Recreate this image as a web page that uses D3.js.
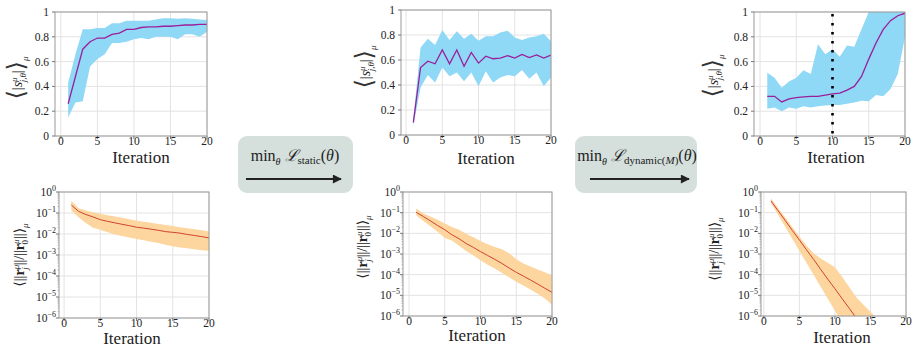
<!DOCTYPE html>
<meta charset="utf-8">
<style>
body{margin:0;background:#fff;}
text{font-family:"Liberation Serif","DejaVu Serif",serif;fill:#222;}
</style>
<body>
<div id="container"></div>
<script src="https://d3js.org/d3.v7.min.js"></script>
<script>

var width = 917,
    height = 348;

var iterations = [1,2,3,4,5,6,7,8,9,10,11,12,13,14,15,16,17,18,19,20];
var xTicks = [0,5,10,15,20];
var linTicks = [0,0.2,0.4,0.6,0.8,1];
var linTickLabels = ["0","0.2","0.4","0.6","0.8","1"];
var logTicks = [1e-6,1e-5,1e-4,1e-3,1e-2,1e-1,1];
var logExponents = ["\u22126","\u22125","\u22124","\u22123","\u22122","\u22121","0"];

// static training: mean overlap and spread
var sMeanA = [0.26,0.48,0.70,0.76,0.79,0.79,0.82,0.83,0.86,0.86,0.875,0.88,0.88,0.885,0.885,0.89,0.895,0.895,0.9,0.9];
var sHiA   = [0.43,0.66,0.86,0.86,0.87,0.87,0.91,0.91,0.93,0.93,0.93,0.93,0.94,0.95,0.95,0.945,0.95,0.945,0.94,0.935];
var sLoA   = [0.15,0.27,0.28,0.56,0.62,0.66,0.75,0.75,0.76,0.78,0.79,0.78,0.80,0.80,0.80,0.78,0.82,0.82,0.80,0.84];
var rMeanA = [0.24,0.12,0.085,0.065,0.048,0.04,0.034,0.029,0.025,0.021,0.019,0.017,0.015,0.013,0.012,0.011,0.0095,0.0085,0.0075,0.0065];
var rHiA   = [0.38,0.17,0.13,0.11,0.093,0.078,0.068,0.06,0.05,0.043,0.038,0.034,0.03,0.027,0.024,0.021,0.019,0.017,0.015,0.013];
var rLoA   = [0.13,0.063,0.033,0.02,0.016,0.012,0.0095,0.008,0.0068,0.0058,0.005,0.0043,0.0037,0.0031,0.0026,0.0023,0.0021,0.0019,0.0017,0.0016];

// untrained / intermediate model
var sMeanB = [0.10,0.54,0.59,0.57,0.68,0.57,0.68,0.55,0.66,0.575,0.63,0.61,0.615,0.635,0.615,0.645,0.62,0.64,0.615,0.64];
var sHiB   = [0.13,0.70,0.77,0.72,0.84,0.76,0.83,0.77,0.81,0.755,0.79,0.79,0.82,0.835,0.78,0.76,0.78,0.79,0.81,0.75];
var sLoB   = [0.07,0.38,0.48,0.42,0.54,0.47,0.50,0.43,0.50,0.39,0.51,0.42,0.46,0.48,0.47,0.52,0.45,0.50,0.39,0.46];
var rMeanB = [0.105,0.065,0.04,0.024,0.015,0.0085,0.0055,0.0032,0.0021,0.0013,8.5e-4,5.5e-4,3.5e-4,2.1e-4,1.3e-4,8.5e-5,5.5e-5,3.5e-5,2.2e-5,1.4e-5];
var rHiB   = [0.16,0.09,0.065,0.045,0.03,0.02,0.015,0.0095,0.0065,0.0042,0.003,0.0022,0.0017,0.0011,5.5e-4,3.5e-4,2.5e-4,1.8e-4,1.3e-4,9e-5];
var rLoB   = [0.075,0.04,0.022,0.012,0.006,0.0045,0.0025,0.0014,8.5e-4,5e-4,3e-4,2e-4,1.2e-4,7.5e-5,4.5e-5,3e-5,1.9e-5,1.2e-5,7e-6,3.5e-6];

// dynamic training
var sMeanC = [0.32,0.32,0.275,0.30,0.31,0.315,0.32,0.32,0.33,0.34,0.345,0.37,0.40,0.48,0.62,0.75,0.86,0.93,0.97,0.99];
var sHiC   = [0.51,0.47,0.39,0.44,0.47,0.53,0.50,0.74,0.66,0.70,0.64,0.73,0.72,0.86,1.0,1.0,1.0,1.0,1.0,1.0];
var sLoC   = [0.22,0.23,0.20,0.23,0.22,0.24,0.23,0.24,0.245,0.25,0.25,0.26,0.27,0.285,0.28,0.33,0.32,0.38,0.50,0.80];
var rMeanC = [0.37,0.125,0.042,0.014,4.8e-3,1.6e-3,5.5e-4,1.8e-4,6e-5,2.1e-5,7e-6,2.4e-6,8e-7,2.7e-7,9e-8,3e-8,1e-8,3.5e-9,1.2e-9,4e-10];
var rHiC   = [0.5,0.17,0.06,0.02,0.007,0.0025,0.0011,6e-4,3.8e-4,2.3e-4,8e-5,2.5e-5,8e-6,3.5e-6,1.6e-6,7e-7,3e-7,1.2e-7,5e-8,2e-8];
var rLoC   = [0.3,0.08,0.021,5.5e-3,1.4e-3,3.8e-4,1e-4,2.6e-5,6.8e-6,1.8e-6,4.7e-7,1.2e-7,3e-8,8e-9,2e-9,5e-10,1.3e-10,3e-11,8e-12,2e-12];
var switchIteration = 10;

var svg = d3.select("#container").append("svg")
    .attr("width", width)
    .attr("height", height);

var blueFill = "#8fd8f6", purple = "#9b1f9b";
var orangeFill = "#fdd59e", red = "#d0432f";
var clipId = 0;

function panel(p, mean, lo, hi, isLog) {
  var x = d3.scaleLinear().domain([p.xmin, 20]).range([p.x0, p.x1]);
  var y = isLog
    ? d3.scaleLog().domain([1e-6, 1]).range([p.y1, p.y0])
    : d3.scaleLinear().domain([0, 1]).range([p.y1, p.y0]);
  var g = svg.append("g");
  var id = "clip" + (clipId++);
  g.append("clipPath").attr("id", id).append("rect")
    .attr("x", p.x0).attr("y", p.y0)
    .attr("width", p.x1 - p.x0).attr("height", p.y1 - p.y0);

  var yt = isLog ? logTicks : linTicks;
  g.selectAll(".gx").data(xTicks).enter().append("line")
    .attr("x1", x).attr("x2", x).attr("y1", p.y0).attr("y2", p.y1)
    .style("stroke", "#e3e3e3");
  g.selectAll(".gy").data(yt).enter().append("line")
    .attr("x1", p.x0).attr("x2", p.x1).attr("y1", y).attr("y2", y)
    .style("stroke", "#e3e3e3");

  var plot = g.append("g").attr("clip-path", "url(#" + id + ")");
  var area = d3.area()
    .x(function(d, i) { return x(iterations[i]); })
    .y0(function(d, i) { return y(lo[i]); })
    .y1(function(d, i) { return y(hi[i]); });
  var line = d3.line()
    .x(function(d, i) { return x(iterations[i]); })
    .y(function(d) { return y(d); });
  plot.append("path").attr("d", area(mean))
    .style("fill", isLog ? orangeFill : blueFill);
  plot.append("path").attr("d", line(mean))
    .style("fill", "none")
    .style("stroke", isLog ? red : purple)
    .style("stroke-width", isLog ? 1 : 1.3);

  if (p.marker) {
    g.append("line")
      .attr("x1", x(p.marker)).attr("x2", x(p.marker))
      .attr("y1", p.y0 + 2).attr("y2", p.y1)
      .style("stroke", "#000").style("stroke-width", 2.6)
      .style("stroke-dasharray", "2.6,6.4");
  }

  g.append("rect")
    .attr("x", p.x0).attr("y", p.y0)
    .attr("width", p.x1 - p.x0).attr("height", p.y1 - p.y0)
    .style("fill", "none").style("stroke", "#9a9a9a");

  // ticks
  g.selectAll(".tx").data(xTicks).enter().append("line")
    .attr("x1", x).attr("x2", x).attr("y1", p.y1).attr("y2", p.y1 + 3)
    .style("stroke", "#777");
  g.selectAll(".ty").data(yt).enter().append("line")
    .attr("x1", p.x0 - 3).attr("x2", p.x0).attr("y1", y).attr("y2", y)
    .style("stroke", "#777");
  if (isLog) {
    var minors = [];
    for (var e = -6; e < 0; e++) for (var m = 2; m < 10; m++) minors.push(m * Math.pow(10, e));
    g.selectAll(".my").data(minors).enter().append("line")
      .attr("x1", p.x0 - 1.5).attr("x2", p.x0).attr("y1", y).attr("y2", y)
      .style("stroke", "#999").style("stroke-width", 0.6);
  }

  g.selectAll(".lx").data(xTicks).enter().append("text")
    .attr("x", x).attr("y", p.y1 + 9)
    .attr("text-anchor", "middle")
    .style("font-size", "11.5px")
    .text(function(d) { return d; });

  if (isLog) {
    var lab = g.selectAll(".ly").data(yt).enter().append("text")
      .attr("x", p.x0 - 3).attr("y", function(d) { return y(d) + 4; })
      .attr("text-anchor", "end")
      .style("font-size", "11.5px");
    lab.append("tspan").text("10");
    lab.append("tspan").attr("dy", -5).style("font-size", "8px")
      .text(function(d, i) { return logExponents[i]; });
  } else {
    g.selectAll(".ly").data(yt).enter().append("text")
      .attr("x", p.x0 - 6).attr("y", function(d) { return y(d) + 4; })
      .attr("text-anchor", "end")
      .style("font-size", "11.5px")
      .text(function(d, i) { return linTickLabels[i]; });
  }

  svg.append("text")
    .attr("x", p.lx).attr("y", p.ly)
    .attr("text-anchor", "middle")
    .style("font-size", "17px")
    .text("Iteration");

  var yl = svg.append("text")
    .attr("transform", "translate(" + p.yx + "," + p.yy + ") rotate(-90)")
    .attr("text-anchor", "middle")
    .style("font-size", "14px");
  if (isLog) {
    yl.append("tspan").text("\u27E8||");
    yl.append("tspan").style("font-weight", "bold").text("r");
    yl.append("tspan").attr("dy", -5).style("font-size", "9px").style("font-style", "italic").text("\u03BC");
    yl.append("tspan").attr("dx", -5).attr("dy", 9).style("font-size", "9px").style("font-style", "italic").text("j");
    yl.append("tspan").attr("dx", 2).attr("dy", -4).text("||/||");
    yl.append("tspan").style("font-weight", "bold").text("r");
    yl.append("tspan").attr("dy", -5).style("font-size", "9px").style("font-style", "italic").text("\u03BC");
    yl.append("tspan").attr("dx", -5).attr("dy", 9).style("font-size", "9px").text("0");
    yl.append("tspan").attr("dx", 1).attr("dy", -4).text("||\u27E9");
    yl.append("tspan").attr("dy", 4).style("font-size", "9px").style("font-style", "italic").text("\u03BC");
  } else {
    yl.append("tspan").attr("dy", 2).style("font-size", "24px").style("fill", "#333").text("\u27E8");
    yl.append("tspan").attr("dy", -2).text("|");
    yl.append("tspan").style("font-style", "italic").text("s");
    yl.append("tspan").attr("dy", -5).style("font-size", "9px").style("font-style", "italic").text("\u03BC");
    yl.append("tspan").attr("dx", -5).attr("dy", 9).style("font-size", "9px").style("font-style", "italic").text("j,\u03B8");
    yl.append("tspan").attr("dy", -4).text("|");
    yl.append("tspan").attr("dy", 2).style("font-size", "24px").style("fill", "#333").text("\u27E9");
    yl.append("tspan").attr("dy", 4).style("font-size", "9px").style("font-style", "italic").text("\u03BC");
  }
}

panel({x0:55, x1:207, y0:12, y1:136, xmin:-0.8, lx:141, ly:163, yx:22, yy:78}, sMeanA, sLoA, sHiA, false);
panel({x0:401, x1:551, y0:10, y1:135, xmin:-0.7, lx:486, ly:164, yx:370, yy:67}, sMeanB, sLoB, sHiB, false);
panel({x0:754, x1:905, y0:12, y1:136, xmin:-0.83, lx:836, ly:163, yx:718, yy:76, marker:switchIteration}, sMeanC, sLoC, sHiC, false);
panel({x0:59, x1:209, y0:192, y1:318, xmin:-0.7, lx:132, ly:344, yx:24, yy:255}, rMeanA, rLoA, rHiA, true);
panel({x0:403, x1:552, y0:192, y1:316, xmin:-0.84, lx:477, ly:341, yx:367, yy:247}, rMeanB, rLoB, rHiB, true);
panel({x0:761, x1:906, y0:192, y1:316, xmin:-0.4, lx:842, ly:343, yx:719, yy:249}, rMeanC, rLoC, rHiC, true);

// training step boxes with arrows
var defs = svg.append("defs");
defs.append("marker").attr("id", "head")
    .attr("viewBox", "0 0 10 10").attr("refX", 9).attr("refY", 5)
    .attr("markerWidth", 11).attr("markerHeight", 9)
    .attr("orient", "auto").attr("markerUnits", "userSpaceOnUse")
  .append("path").attr("d", "M0,0L10,5L0,10z").style("fill", "#222");

function stepBox(bx, bw, sub, ax0, ax1, tx) {
  svg.append("rect").attr("x", bx).attr("y", 136).attr("width", bw).attr("height", 57)
    .attr("rx", 9).style("fill", "#d5e0dd");
  var t = svg.append("text").attr("x", tx).attr("y", 161)
    .attr("text-anchor", "middle").style("font-size", "16px");
  t.append("tspan").text("min");
  t.append("tspan").attr("dy", 4).style("font-size", "10px").style("font-style", "italic").text("\u03B8");
  t.append("tspan").attr("dy", -4).attr("dx", 4).style("font-style", "italic").text("\u2112");
  t.append("tspan").attr("dy", 3).style("font-size", "11px").text(sub[0]);
  if (sub[1]) {
    t.append("tspan").style("font-size", "11px").text("(");
    t.append("tspan").style("font-size", "11px").style("font-style", "italic").text(sub[1]);
    t.append("tspan").style("font-size", "11px").text(")");
  }
  t.append("tspan").attr("dy", -3).text("(");
  t.append("tspan").style("font-style", "italic").text("\u03B8");
  t.append("tspan").text(")");
  svg.append("line").attr("x1", ax0).attr("x2", ax1 - 8).attr("y1", 179).attr("y2", 179)
    .style("stroke", "#222").style("stroke-width", 2)
    .attr("marker-end", "url(#head)");
}

stepBox(238, 115, ["static"], 246, 349, 295);
stepBox(575, 122, ["dynamic", "M"], 590, 697, 637);

</script>
</body>
</html>
